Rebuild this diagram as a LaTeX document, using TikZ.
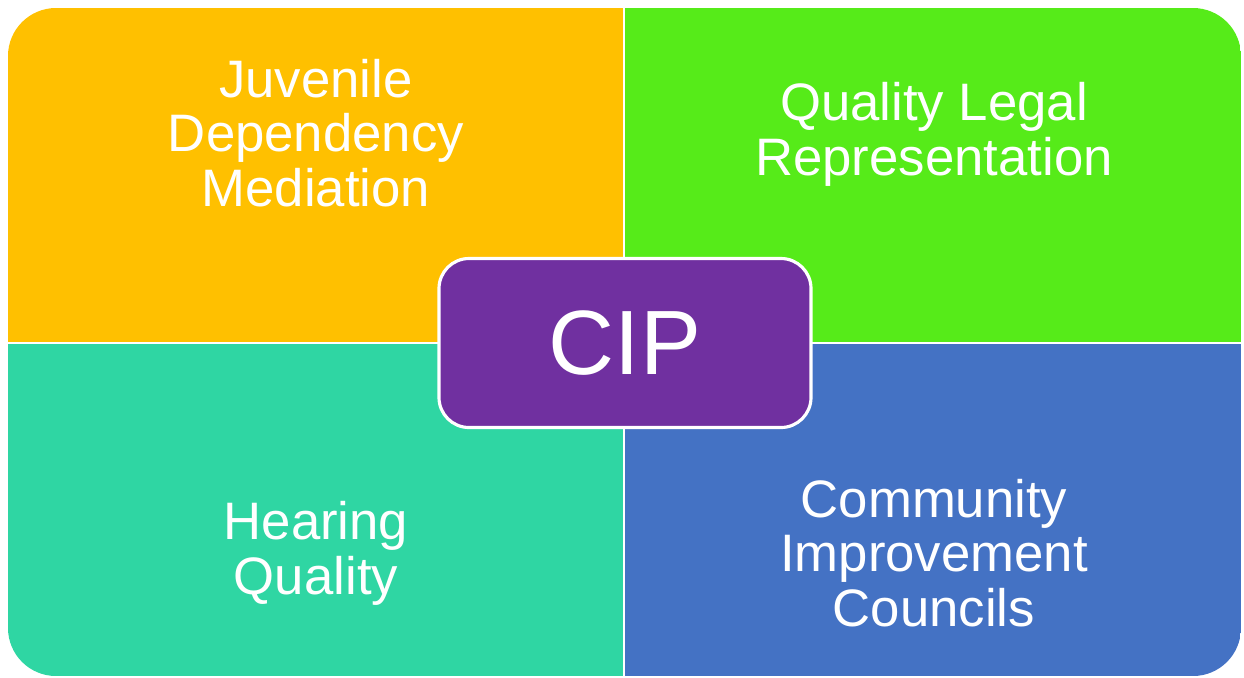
\documentclass[tikz,border=0pt]{standalone}
\usepackage{fontspec}
\setmainfont{Liberation Sans}

\definecolor{cipyellow}{HTML}{FFC000}
\definecolor{cipgreen}{HTML}{56EB19}
\definecolor{cipteal}{HTML}{2FD6A3}
\definecolor{cipblue}{HTML}{4472C4}
\definecolor{cippurple}{HTML}{7030A0}

\begin{document}
\begin{tikzpicture}[
    quadtext/.style={text=white, align=center, font=\fontsize{15}{15.6}\selectfont}
  ]

    \useasboundingbox (0,0) rectangle (12.44,6.77);

    %% Four quadrants inside one rounded frame
    \begin{scope}
      \clip[rounded corners=0.48cm] (0.08,0.01) rectangle (12.41,6.69);
      \fill[cipyellow] (0.08,3.34) rectangle (6.24,6.69);
      \fill[cipgreen] (6.24,3.34) rectangle (12.41,6.69);
      \fill[cipteal] (0.08,0.01) rectangle (6.24,3.34);
      \fill[cipblue] (6.24,0.01) rectangle (12.41,3.34);
    \end{scope}

    % Dividing lines
    \draw[white, line width=0.8pt] (6.24,0.01) -- (6.24,6.69);
    \draw[white, line width=0.8pt] (0.08,3.34) -- (12.41,3.34);

    % Labels of the quadrants
    \node[quadtext] (juvenile) at (3.16,5.44) {Juvenile\\Dependency\\Mediation};
    \node[quadtext] (legal) at (9.34,5.43) {Quality Legal\\Representation};
    \node[quadtext] (hearing) at (3.16,1.24) {Hearing\\Quality};
    \node[quadtext] (councils) at (9.34,1.24) {Community\\Improvement\\Councils};

    %% Centre box
    \node[fill=cippurple, draw=white, line width=0.9pt, rounded corners=0.3cm,
      minimum width=3.72cm, minimum height=1.69cm, text=white,
      font=\fontsize{26}{30}\selectfont] (cip) at (6.25,3.34) {CIP};

\end{tikzpicture}
\end{document}
